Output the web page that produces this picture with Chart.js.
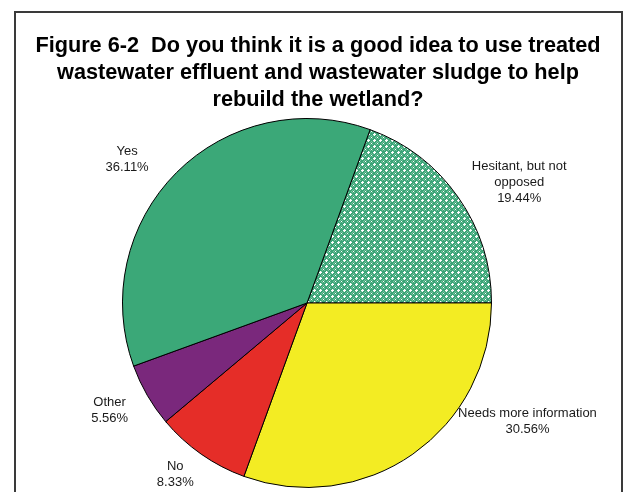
<!DOCTYPE html>
<html>
<head>
<meta charset="utf-8">
<script src="https://cdn.jsdelivr.net/npm/chart.js@4.4.1/dist/chart.umd.min.js"></script>
<style>
  html, body { margin: 0; padding: 0; background: #fff; }
  #wrap { position: relative; width: 623px; height: 492px; overflow: hidden; }
  #frame {
    position: absolute; left: 14px; top: 11px; width: 609px; height: 500px;
    border: 2px solid #3a3a3a; box-sizing: border-box;
  }
  #title {
    position: absolute; left: 14px; top: 31px; width: 608px;
    font: bold 21.7px "Liberation Sans", Arial, sans-serif; line-height: 27px;
    text-align: center; color: #000;
  }
  #chart { position: absolute; left: 0; top: 0; }
</style>
</head>
<body>
<div id="wrap">
  <div id="frame"></div>
  <canvas id="chart" width="623" height="492"></canvas>
  <div id="title">Figure 6-2&nbsp; Do you think it is a good idea to use treated<br>wastewater effluent and wastewater sludge to help<br>rebuild the wetland?</div>
</div>
<script>
// Survey answers, clockwise from the hatched slice
const answers = ["Hesitant, but not opposed", "Needs more information", "No", "Other", "Yes"];
const shares = [19.44, 30.56, 8.33, 5.56, 36.11];
const labelLines = [
  ["Hesitant, but not", "opposed", "19.44%"],
  ["Needs more information", "30.56%"],
  ["No", "8.33%"],
  ["Other", "5.56%"],
  ["Yes", "36.11%"]
];
// label centres, in units of the pie radius from its centre
const labelSpots = [[1.15, -0.655], [1.195, 0.64], [-0.714, 0.93], [-1.07, 0.58], [-0.975, -0.78]];

// small dotted tile for the hesitant slice
function dotPattern() {
  const c = document.createElement('canvas');
  c.width = 6; c.height = 6;
  const g = c.getContext('2d');
  g.fillStyle = '#3aa477';
  g.fillRect(0, 0, 6, 6);
  g.fillStyle = '#79c49f';
  for (let y = 0; y < 6; y++) {
    for (let x = 0; x < 6; x++) {
      if ((x + y) % 2 === 0 && (x + y) % 4 !== 2) g.fillRect(x, y, 1, 1);
    }
  }
  g.fillStyle = '#ffffff';
  g.fillRect(2, 1, 1, 1); g.fillRect(1, 2, 3, 1); g.fillRect(2, 3, 1, 1);
  g.fillRect(5, 5, 1, 1);
  return g.createPattern(c, 'repeat');
}

const sliceLabels = {
  id: 'sliceLabels',
  afterDatasetsDraw(chart) {
    const ctx = chart.ctx;
    const arcs = chart.getDatasetMeta(0).data;
    ctx.save();
    ctx.font = '13px "Liberation Sans", Arial, sans-serif';
    ctx.fillStyle = '#1a1a1a';
    ctx.textAlign = 'center';
    ctx.textBaseline = 'middle';
    arcs.forEach((arc, i) => {
      const r = arc.outerRadius;
      const cx = arc.x + labelSpots[i][0] * r;
      const cy = arc.y + labelSpots[i][1] * r;
      const lines = labelLines[i];
      const top = cy - (lines.length - 1) * 16 / 2;
      lines.forEach((t, j) => ctx.fillText(t, cx, top + j * 16));
    });
    ctx.restore();
  }
};

new Chart(document.getElementById('chart'), {
  type: 'pie',
  data: {
    labels: answers,
    datasets: [{
      data: shares,
      backgroundColor: [dotPattern(), '#f3ec23', '#e52d28', '#7a287c', '#3ba878'],
      borderColor: '#000',
      borderWidth: 1
    }]
  },
  options: {
    responsive: false,
    animation: false,
    rotation: 20,
    layout: { padding: { left: 122, right: 131, top: 118, bottom: 4 } },
    plugins: {
      legend: { display: false },
      tooltip: { enabled: false }
    }
  },
  plugins: [sliceLabels]
});
</script>
</body>
</html>
